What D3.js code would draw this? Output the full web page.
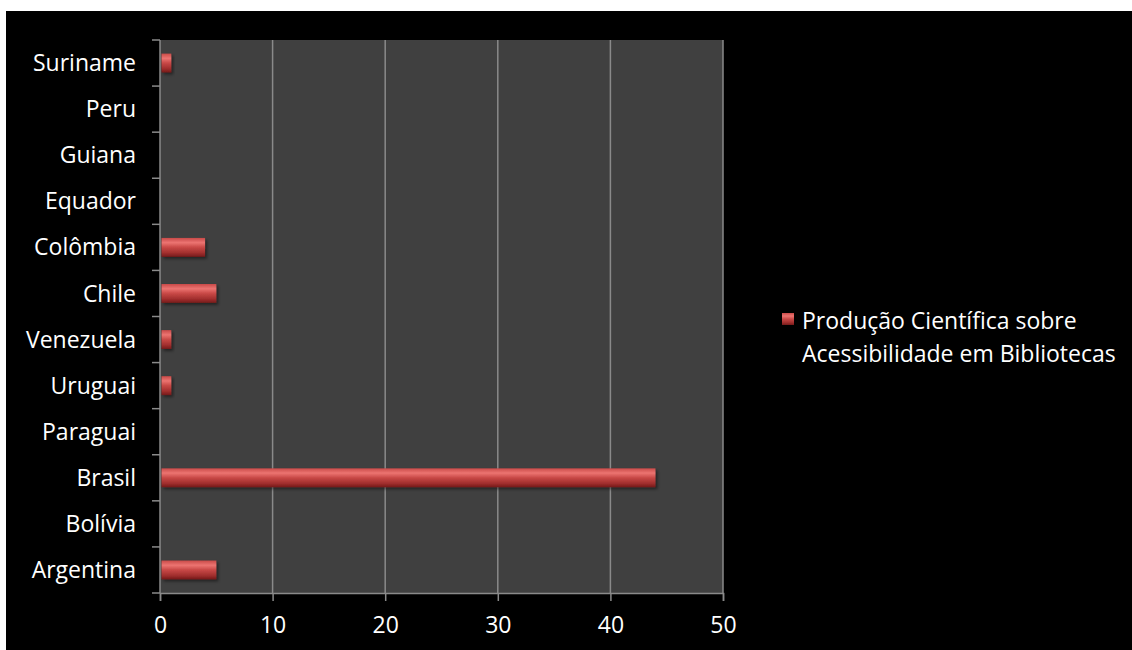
<!DOCTYPE html>
<html>
<head>
<meta charset="utf-8">
<script src="https://cdn.jsdelivr.net/npm/d3@7"></script>
<style>
  html, body { margin: 0; padding: 0; background: #fff; }
  svg text { font-family: "Open Sans", sans-serif; fill: #fff; }
</style>
</head>
<body>
<div class="d3-content"></div>
<script>
const countries = ['Argentina', 'Bolívia', 'Brasil', 'Paraguai', 'Uruguai', 'Venezuela',
                   'Chile', 'Colômbia', 'Equador', 'Guiana', 'Peru', 'Suriname'];
const counts = [5, 0, 44, 0, 1, 1, 5, 4, 0, 0, 0, 1];
const xTicks = [0, 10, 20, 30, 40, 50];
const seriesName = ['Produção Científica sobre', 'Acessibilidade em Bibliotecas'];

const SVG_WIDTH = 1132;
const SVG_HEIGHT = 650;
const PLOT = { left: 160, top: 40, right: 723, bottom: 593 };
const FONT = 23;

const data = countries.map((c, i) => ({ country: c, value: counts[i] }));

const svg = d3.select('.d3-content')
  .append('svg')
  .attr('width', SVG_WIDTH)
  .attr('height', SVG_HEIGHT)
  .style('display', 'block');

// black frame, white strip top/left
svg.append('rect')
   .attr('x', 6).attr('y', 11)
   .attr('width', SVG_WIDTH - 6).attr('height', SVG_HEIGHT - 11)
   .attr('fill', '#000');

const defs = svg.append('defs');
const grad = defs.append('linearGradient')
  .attr('id', 'barGrad')
  .attr('x1', 0).attr('y1', 0).attr('x2', 0).attr('y2', 1);
grad.append('stop').attr('offset', '0%').attr('stop-color', '#c94a48');
grad.append('stop').attr('offset', '25%').attr('stop-color', '#ec7471');
grad.append('stop').attr('offset', '50%').attr('stop-color', '#c84846');
grad.append('stop').attr('offset', '80%').attr('stop-color', '#a02e2d');
grad.append('stop').attr('offset', '100%').attr('stop-color', '#741a19');

const shadow = defs.append('filter').attr('id', 'shadow')
  .attr('x', '-20%').attr('y', '-20%').attr('width', '150%').attr('height', '160%');
shadow.append('feDropShadow')
  .attr('dx', 2).attr('dy', 2).attr('stdDeviation', 1.5)
  .attr('flood-color', '#000').attr('flood-opacity', 0.45);

const xscale = d3.scaleLinear()
  .domain([0, 50])
  .range([PLOT.left, PLOT.right]);

const yscale = d3.scaleBand()
  .domain(countries.slice().reverse())
  .range([PLOT.top, PLOT.bottom])
  .paddingInner(0.59)
  .paddingOuter(0.295);

// plot area
svg.append('rect')
   .attr('x', PLOT.left).attr('y', PLOT.top)
   .attr('width', PLOT.right - PLOT.left)
   .attr('height', PLOT.bottom - PLOT.top)
   .attr('fill', '#404040');

// vertical gridlines
svg.append('g')
   .selectAll('line')
   .data(xTicks.slice(1))
   .join('line')
   .attr('x1', d => xscale(d)).attr('x2', d => xscale(d))
   .attr('y1', PLOT.top).attr('y2', PLOT.bottom)
   .attr('stroke', '#8a8a8a')
   .attr('stroke-width', 1.5);

// x axis
const xAxis = svg.append('g')
  .attr('transform', `translate(0, ${PLOT.bottom})`)
  .call(d3.axisBottom(xscale).tickValues(xTicks).tickSize(8).tickPadding(16));
xAxis.select('.domain').attr('stroke', '#8a8a8a').attr('stroke-width', 1.5);
xAxis.selectAll('.tick line').attr('stroke', '#8a8a8a').attr('stroke-width', 1.5);
xAxis.selectAll('.tick text').attr('font-size', FONT).attr('fill', '#fff')
     .style('font-family', '"Open Sans", sans-serif');

// y axis: line + ticks at band boundaries
const step = yscale.step();
const bounds = d3.range(countries.length + 1).map(k => PLOT.top + k * step);
const yAxis = svg.append('g');
yAxis.append('line')
     .attr('x1', PLOT.left).attr('x2', PLOT.left)
     .attr('y1', PLOT.top).attr('y2', PLOT.bottom)
     .attr('stroke', '#8a8a8a').attr('stroke-width', 1.5);
yAxis.selectAll('.ytick')
     .data(bounds)
     .join('line')
     .attr('class', 'ytick')
     .attr('x1', PLOT.left - 8).attr('x2', PLOT.left)
     .attr('y1', d => d).attr('y2', d => d)
     .attr('stroke', '#8a8a8a').attr('stroke-width', 1.5);
yAxis.selectAll('.ylabel')
     .data(countries)
     .join('text')
     .attr('class', 'ylabel')
     .attr('x', 136)
     .attr('y', d => yscale(d) + yscale.bandwidth() / 2)
     .attr('dy', '0.35em')
     .attr('text-anchor', 'end')
     .attr('font-size', FONT)
     .text(d => d);

// bars
svg.append('g')
   .selectAll('rect')
   .data(data.filter(d => d.value > 0))
   .join('rect')
   .attr('x', xscale(0) + 1.5)
   .attr('y', d => yscale(d.country))
   .attr('width', d => xscale(d.value) - xscale(0) - 1.5)
   .attr('height', yscale.bandwidth())
   .attr('fill', 'url(#barGrad)')
   .attr('filter', 'url(#shadow)');

// legend
const legend = svg.append('g').attr('transform', 'translate(782, 313)');
legend.append('rect')
      .attr('width', 12).attr('height', 12)
      .attr('fill', 'url(#barGrad)');
legend.selectAll('text')
      .data(seriesName)
      .join('text')
      .attr('x', 20)
      .attr('y', (d, i) => 16 + i * 33)
      .attr('font-size', FONT)
      .text(d => d);
</script>
</body>
</html>
